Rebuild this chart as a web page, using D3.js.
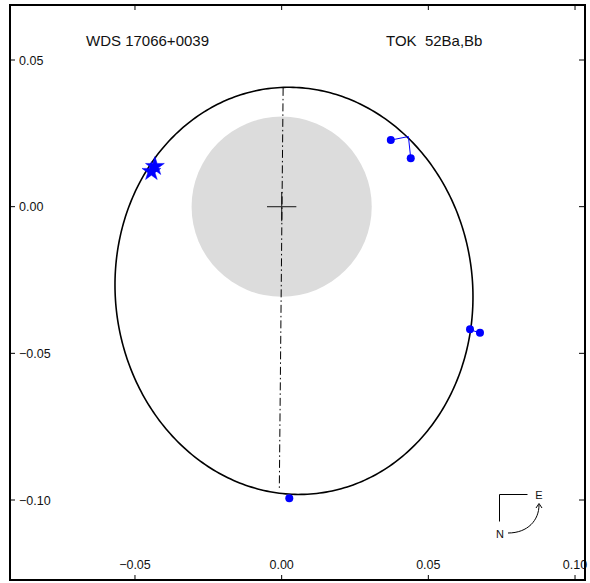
<!DOCTYPE html>
<html><head><meta charset="utf-8">
<script src="https://cdn.jsdelivr.net/npm/d3@7"></script>
<style>
html,body{margin:0;padding:0;background:#fff;}
svg{display:block;font-family:"Liberation Sans",Arial,Helvetica,sans-serif;}
</style></head>
<body><svg id="chart" width="590" height="583"></svg>
<script>
// ---- data (arcsec) ----
const titleLeft = "WDS 17066+0039";
const titleRight = "TOK  52Ba,Bb";
const xTicks = [-0.05, 0.00, 0.05, 0.10];
const yTicks = [0.05, 0.00, -0.05, -0.10];
const xDomain = [-0.0926, 0.1034];
const yDomain = [0.06875, -0.12727];
// orbit ellipse: centre, semi-axes, tilt (deg)
const orbitCenter = [0.0042, -0.0287];
const orbitAxes = [0.0695, 0.0609];
const orbitTilt = 6.4;
// line of nodes end points
const nodeX = [0.0005, -0.0008];
const nodeY = [0.0405, -0.0966];
// resolution limit circle radius
const limitRadius = 0.0307;
const crossHalf = 0.005;
// measures (filled circles) and computed positions
const obsX = [0.0372, 0.0440, 0.0642, 0.0676, 0.0026];
const obsY = [0.0227, 0.0165, -0.0418, -0.0430, -0.0994];
const calX = [0.0432, 0.0432, 0.0646, 0.0646, 0.0026];
const calY = [0.0239, 0.0239, -0.0421, -0.0421, -0.0985];
// star markers
const starX = [-0.0444, -0.0432];
const starY = [0.0120, 0.0137];

const svg = d3.select("#chart");
const L = 10, R = 585, T = 5, B = 580;
const x = d3.scaleLinear().domain(xDomain).range([L, R]);
const y = d3.scaleLinear().domain(yDomain).range([T, B]);
const fmt = d3.format(".2f");
const blue = "#0000ff";

// gray circle
svg.append("circle").attr("cx", x(0)).attr("cy", y(0))
  .attr("r", x(limitRadius) - x(0)).attr("fill", "#dcdcdc");

// cross
svg.append("line").attr("x1", x(-crossHalf)).attr("x2", x(crossHalf))
  .attr("y1", y(0)).attr("y2", y(0)).attr("stroke", "#333").attr("stroke-width", 1.2);
svg.append("line").attr("x1", x(0)).attr("x2", x(0))
  .attr("y1", y(crossHalf)).attr("y2", y(-crossHalf)).attr("stroke", "#333").attr("stroke-width", 1.2);

// line of nodes
svg.append("line").attr("x1", x(nodeX[0])).attr("y1", y(nodeY[0]))
  .attr("x2", x(nodeX[1])).attr("y2", y(nodeY[1]))
  .attr("stroke", "#000").attr("stroke-width", 1)
  .attr("stroke-dasharray", "8,3,1.5,3");

// orbit ellipse
const th = orbitTilt * Math.PI / 180;
const ell = d3.range(0, 361).map(d => {
  const t = d * Math.PI / 180;
  const a = orbitAxes[0], b = orbitAxes[1];
  return [orbitCenter[0] + a * Math.cos(t) * Math.sin(th) + b * Math.sin(t) * Math.cos(th),
          orbitCenter[1] - a * Math.cos(t) * Math.cos(th) + b * Math.sin(t) * Math.sin(th)];
});
svg.append("path").attr("d", d3.line().x(d => x(d[0])).y(d => y(d[1]))(ell) + "Z")
  .attr("fill", "none").attr("stroke", "#000").attr("stroke-width", 1.6);

// O-C lines
obsX.forEach((v, i) => {
  svg.append("line").attr("x1", x(v)).attr("y1", y(obsY[i]))
    .attr("x2", x(calX[i])).attr("y2", y(calY[i]))
    .attr("stroke", blue).attr("stroke-width", 1);
});
// points
svg.selectAll("circle.obs").data(obsX).enter().append("circle")
  .attr("class", "obs").attr("cx", d => x(d)).attr("cy", (d, i) => y(obsY[i]))
  .attr("r", 4).attr("fill", blue);

// stars
const starPath = d3.symbol().type(d3.symbolStar).size(110)();
svg.selectAll("path.star").data(starX).enter().append("path")
  .attr("class", "star").attr("d", starPath)
  .attr("transform", (d, i) => `translate(${x(d)},${y(starY[i])})`)
  .attr("fill", blue).attr("stroke", blue).attr("stroke-width", 0.5);

// frame & ticks
const axisG = svg.append("g").attr("stroke", "#000").attr("stroke-width", 1);
xTicks.forEach(v => {
  axisG.append("line").attr("x1", x(v)).attr("x2", x(v)).attr("y1", T).attr("y2", T + 5);
  axisG.append("line").attr("x1", x(v)).attr("x2", x(v)).attr("y1", B).attr("y2", B - 5);
});
yTicks.forEach(v => {
  axisG.append("line").attr("y1", y(v)).attr("y2", y(v)).attr("x1", L).attr("x2", L + 5);
  axisG.append("line").attr("y1", y(v)).attr("y2", y(v)).attr("x1", R).attr("x2", R - 6);
});

const lab = svg.append("g").attr("font-size", 12.5).attr("fill", "#111");
xTicks.forEach(v => {
  lab.append("text").attr("x", x(v)).attr("y", B - 11).attr("text-anchor", "middle").text(fmt(v));
});
yTicks.forEach(v => {
  lab.append("text").attr("x", L + 9).attr("y", y(v) + 4.5).attr("text-anchor", "start").text(fmt(v));
});

svg.append("rect").attr("x", L).attr("y", T).attr("width", R - L).attr("height", B - T)
  .attr("fill", "none").attr("stroke", "#000").attr("stroke-width", 2);

// titles
svg.append("text").attr("x", 86).attr("y", 46).attr("font-size", 15).attr("fill", "#111").text(titleLeft);
svg.append("text").attr("x", 386).attr("y", 46).attr("font-size", 15).attr("fill", "#111")
  .attr("xml:space", "preserve").style("white-space", "pre").text(titleRight);

// N-E indicator
const ne = svg.append("g").attr("fill", "none").attr("stroke", "#000").attr("stroke-width", 1);
ne.append("path").attr("d", "M527.5,494.5 H499.5 V521.5");
ne.append("path").attr("d", "M508,533 C528,533 539,520 539,505");
ne.append("path").attr("d", "M536,508 L539,503.5 L542,508");
svg.append("text").attr("x", 539).attr("y", 498.5).attr("font-size", 11).attr("text-anchor", "middle").attr("fill", "#111").text("E");
svg.append("text").attr("x", 500).attr("y", 537.5).attr("font-size", 11).attr("text-anchor", "middle").attr("fill", "#111").text("N");
</script></body></html>
